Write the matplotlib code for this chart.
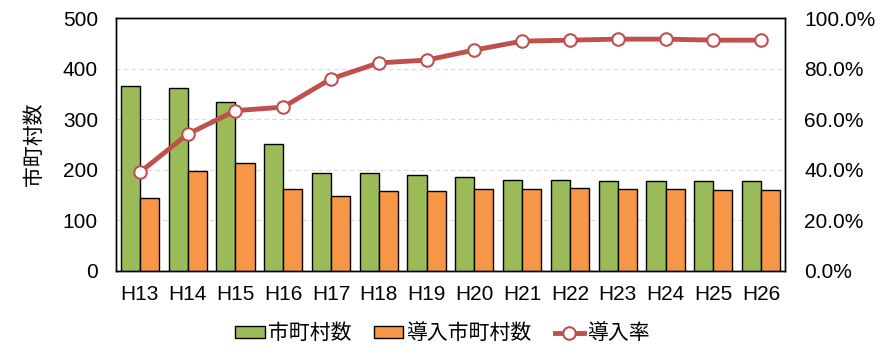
import numpy as np
import matplotlib.pyplot as plt

plt.rcParams['font.family'] = ['Liberation Sans', 'Noto Sans CJK JP']

# data
years = ["H13", "H14", "H15", "H16", "H17", "H18", "H19", "H20", "H21", "H22", "H23", "H24", "H25", "H26"]
municipalities = [365, 361, 335, 252, 193, 193, 189, 185, 179, 179, 177, 177, 177, 177]
adopted = [144, 197, 213, 163, 148, 159, 159, 163, 163, 165, 163, 163, 161, 161]
rate = [39.0, 54.1, 63.4, 64.8, 76.0, 82.3, 83.4, 87.4, 90.9, 91.3, 91.7, 91.7, 91.3, 91.3]

x = np.arange(len(years))
w = 0.4
fs = 15

fig = plt.figure(figsize=(8.85, 3.56), dpi=100)
ax = fig.add_axes([0.131, 0.239, 0.756, 0.71])

b1 = ax.bar(x - w / 2, municipalities, w, color="#9BBB59", edgecolor="black", linewidth=1, label="市町村数", zorder=3)
b2 = ax.bar(x + w / 2, adopted, w, color="#F79646", edgecolor="black", linewidth=1, label="導入市町村数", zorder=3)

ax.set_ylim(0, 500)
ax.set_yticks([0, 100, 200, 300, 400, 500])
ax.set_xlim(-0.5, len(years) - 0.5)
ax.set_xticks(x)
ax.set_xticklabels(years)
ax.yaxis.grid(True, linestyle=(0, (4, 3)), color="#D9D9D9", linewidth=0.8, zorder=0)
ax.set_axisbelow(True)
ax.tick_params(axis="y", length=0, labelsize=fs, pad=13)
ax.tick_params(axis="x", length=0, labelsize=fs, pad=10)
ax.set_ylabel("市町村数", fontsize=fs)
ax.yaxis.set_label_coords(-0.108, 0.5)

ax2 = ax.twinx()
ln, = ax2.plot(x, rate, color="#C0504D", linewidth=3.5, marker="o", markersize=9,
               markerfacecolor="white", markeredgecolor="#C0504D", markeredgewidth=1.5,
               label="導入率", zorder=4)
ax2.set_ylim(0, 100)
ax2.set_yticks(np.arange(0, 101, 20))
ax2.set_yticklabels([f"{v:.1f}%" for v in np.arange(0, 101, 20)])
ax2.tick_params(axis="y", length=0, labelsize=fs, pad=14)

for a in (ax, ax2):
    for s in a.spines.values():
        s.set_linewidth(1)
        s.set_color("black")

fig.legend(handles=[b1, b2, ln], loc="center", bbox_to_anchor=(0.5, 0.064), ncol=3,
           frameon=False, fontsize=fs, handlelength=1.4, handleheight=0.5,
           handletextpad=0.15, columnspacing=1.1)

fig.savefig("out.png", dpi=100)
